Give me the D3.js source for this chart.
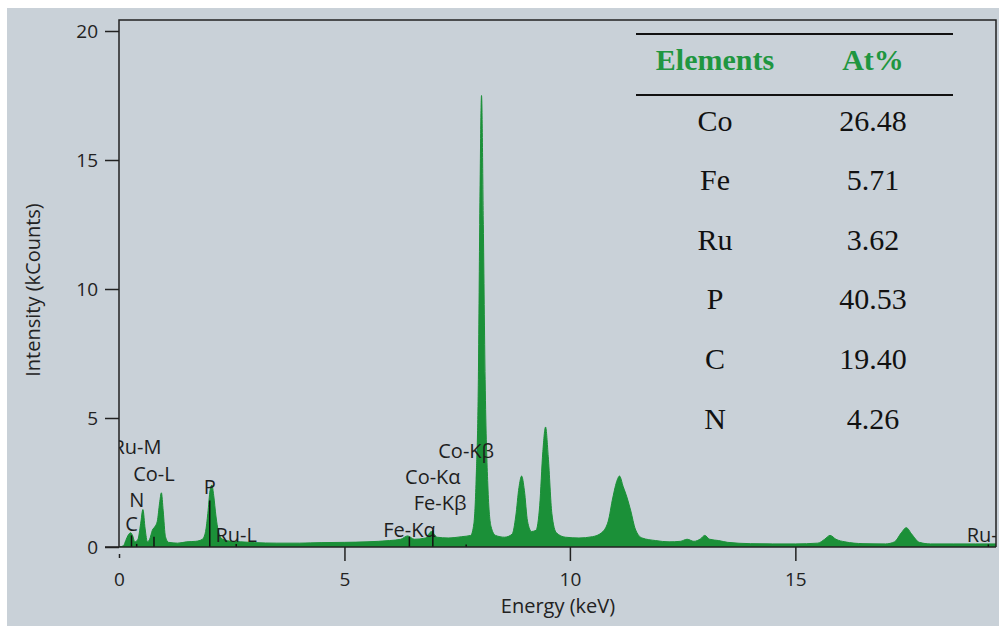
<!DOCTYPE html>
<html>
<head>
<meta charset="utf-8">
<script src="https://cdn.jsdelivr.net/npm/d3@7"></script>
<style>
    body { margin:0; background:#fff; }
    .tick text { font-family:"Open Sans", sans-serif; font-size:19px; fill:#222; }
    .peak__label { font-family:"Open Sans", sans-serif; font-size:20px; fill:#1e1e1e; }
    .axis__title { font-family:"Open Sans", sans-serif; font-size:20px; fill:#222; }
    .table__text { font-family:"Liberation Serif", "Times New Roman", serif; font-size:30px; fill:#111; }
</style>
</head>
<body>
<div class="main__area"></div>
<script>
// spectrum points: energy (keV), intensity (kCounts)
const energies=[
    0.00, 0.10, 0.15, 0.20, 0.26, 0.30, 0.35, 0.42, 0.48, 0.53, 0.58, 0.63, 0.68, 0.74, 0.80, 0.85, 0.90, 0.94, 0.98, 1.03,
    1.10, 1.30, 1.50, 1.70, 1.85, 1.92, 1.97, 2.02, 2.06, 2.10, 2.15, 2.22, 2.30, 2.50, 2.70, 3.00, 3.50, 4.00, 4.50, 5.00,
    5.50, 6.00, 6.25, 6.40, 6.55, 6.80, 6.93, 7.05, 7.30, 7.60, 7.80, 7.87, 7.92, 7.97, 8.00, 8.04, 8.08, 8.12, 8.18, 8.25,
    8.35, 8.55, 8.72, 8.80, 8.87, 8.93, 8.99, 9.06, 9.15, 9.25, 9.33, 9.40, 9.46, 9.52, 9.60, 9.70, 9.90, 10.20, 10.50, 10.70,
    10.85, 10.95, 11.05, 11.10, 11.18, 11.27, 11.35, 11.45, 11.60, 11.90, 12.20, 12.45, 12.60, 12.75, 12.90, 12.99, 13.10, 13.30, 13.50, 14.00,
    14.50, 15.00, 15.50, 15.65, 15.77, 15.90, 16.10, 16.50, 17.00, 17.20, 17.35, 17.46, 17.58, 17.75, 18.00, 18.50, 19.00, 19.45
];
const counts=[
    0.00, 0.05, 0.25, 0.45, 0.55, 0.45, 0.20, 0.30, 0.90, 1.45, 0.70, 0.20, 0.30, 0.65, 0.80, 1.00, 1.70, 2.10, 1.40, 0.40,
    0.18, 0.15, 0.20, 0.22, 0.30, 0.60, 1.30, 2.20, 2.40, 2.00, 1.20, 0.50, 0.30, 0.22, 0.20, 0.17, 0.15, 0.15, 0.17, 0.18,
    0.20, 0.25, 0.30, 0.43, 0.30, 0.35, 0.60, 0.38, 0.35, 0.40, 0.45, 0.90, 2.60, 6.50, 12.50, 17.50, 12.50, 6.50, 2.40, 0.80,
    0.45, 0.38, 0.50, 1.20, 2.30, 2.75, 2.20, 1.00, 0.60, 0.65, 1.60, 3.70, 4.65, 3.50, 1.30, 0.55, 0.38, 0.35, 0.40, 0.55,
    1.00, 1.90, 2.60, 2.75, 2.35, 1.90, 1.40, 0.70, 0.35, 0.25, 0.20, 0.22, 0.30, 0.22, 0.32, 0.45, 0.30, 0.25, 0.18, 0.13,
    0.12, 0.12, 0.15, 0.30, 0.45, 0.30, 0.20, 0.13, 0.12, 0.20, 0.55, 0.75, 0.50, 0.18, 0.12, 0.12, 0.12, 0.12
];

// peak markers: name, energy where it is drawn, marker height, label height (kCounts)
const peakNames=["Ru-M", "C", "N", "Co-L", "P", "Ru-L", "Fe-Kα", "Co-Kα", "Fe-Kβ", "Co-Kβ", "Ru-K"];
const peakEnergies=[0.40, 0.277, 0.392, 0.776, 2.013, 2.60, 6.44, 6.96, 7.12, 7.70, 19.28];
const markHeights=[0, 0.45, 0.12, 0.40, 1.80, 0.12, 0.40, 0.65, 0, 0.10, 0.10];
const labelHeights=[3.88, 0.90, 1.82, 2.82, 2.33, 0.47, 0.66, 2.70, 1.70, 3.72, 0.47];

// composition table
const tableElements=["Co", "Fe", "Ru", "P", "C", "N"];
const tablePercents=["26.48", "5.71", "3.62", "40.53", "19.40", "4.26"];

const xTicks=[0, 5, 10, 15];
const yTicks=[0, 5, 10, 15, 20];

const width=999;
const height=626;
const plot={ left:119, right:996, top:20, bottom:547 };

const svgTag=d3.select(".main__area").append("svg")
    .attr("width", width)
    .attr("height", height);

svgTag.append("rect")
    .attr("x", 7).attr("y", 8)
    .attr("width", width-7).attr("height", height-8)
    .attr("fill", "#c9d1d8");

const xScale=d3.scaleLinear().domain([0, 19.45]).range([plot.left, plot.right]);
const yScale=d3.scaleLinear().domain([0, 20]).range([plot.bottom, 31]);

svgTag.append("clipPath").attr("id", "plotClip")
    .append("rect")
    .attr("x", plot.left).attr("y", plot.top)
    .attr("width", plot.right-plot.left).attr("height", plot.bottom-plot.top);

// spectrum
const spectrum=energies.map((e, i)=>({ e, c:counts[i] }));
const area=d3.area()
    .x(d=>xScale(d.e))
    .y0(yScale(0))
    .y1(d=>yScale(d.c))
    .curve(d3.curveMonotoneX);

svgTag.append("path")
    .datum(spectrum)
    .attr("clip-path", "url(#plotClip)")
    .attr("d", area)
    .attr("fill", "#1b9038")
    .attr("stroke", "#1b9038")
    .attr("stroke-width", 1);

// peak markers + labels
const peakG=svgTag.append("g").attr("clip-path", "url(#plotClip)");
peakNames.forEach((name, i)=>{
    const px=xScale(peakEnergies[i]);
    if (markHeights[i]>0) {
        peakG.append("line")
            .attr("x1", px).attr("x2", px)
            .attr("y1", yScale(0)).attr("y2", yScale(markHeights[i]))
            .attr("stroke", "#111").attr("stroke-width", 1.5);
    }
    peakG.append("text")
        .attr("class", "peak__label")
        .attr("x", px).attr("y", yScale(labelHeights[i]))
        .attr("dy", "0.35em")
        .attr("text-anchor", "middle")
        .text(name);
});

// axes
const xAxis=svgTag.append("g")
    .attr("transform", `translate(0, ${plot.bottom})`)
    .call(d3.axisBottom(xScale).tickValues(xTicks).tickSize(14).tickPadding(12).tickSizeOuter(0));
xAxis.select(".domain").remove();
xAxis.selectAll(".tick line").attr("stroke", "#222").attr("stroke-width", 1.5);
// the tick at 0 is only a small dot in the original
xAxis.selectAll(".tick").filter(d=>d===0).select("line").attr("y1", 7).attr("y2", 11);

const yAxis=svgTag.append("g")
    .attr("transform", `translate(${plot.left}, 0)`)
    .call(d3.axisLeft(yScale).tickValues(yTicks).tickSize(14).tickPadding(7).tickSizeOuter(0));
yAxis.select(".domain").remove();
yAxis.selectAll(".tick line").attr("stroke", "#222").attr("stroke-width", 1.5);

// frame
svgTag.append("path")
    .attr("d", `M${plot.left},${plot.bottom}V${plot.top}H${plot.right}V${plot.bottom}`)
    .attr("fill", "none").attr("stroke", "#222").attr("stroke-width", 1.5);
svgTag.append("line")
    .attr("x1", 105).attr("x2", plot.right)
    .attr("y1", plot.bottom).attr("y2", plot.bottom)
    .attr("stroke", "#222").attr("stroke-width", 1.5);

svgTag.append("text")
    .attr("class", "axis__title")
    .attr("x", 558).attr("y", 606)
    .attr("dy", "0.35em")
    .attr("text-anchor", "middle")
    .text("Energy (keV)");

svgTag.append("text")
    .attr("class", "axis__title")
    .attr("transform", "translate(33, 290) rotate(-90)")
    .attr("dy", "0.35em")
    .attr("text-anchor", "middle")
    .text("Intensity (kCounts)");

// table
const colX=[715, 873];
const tableG=svgTag.append("g");
[34, 95].forEach(ly=>{
    tableG.append("line")
        .attr("x1", 636).attr("x2", 953)
        .attr("y1", ly).attr("y2", ly)
        .attr("stroke", "#111").attr("stroke-width", 2);
});
["Elements", "At%"].forEach((h, i)=>{
    tableG.append("text")
        .attr("class", "table__text")
        .attr("x", colX[i]).attr("y", 59)
        .attr("dy", "0.35em")
        .attr("text-anchor", "middle")
        .attr("font-weight", "bold")
        .style("fill", "#1f9640")
        .text(h);
});
const rowY=d3.scalePoint().domain(tableElements).range([120, 418]);
tableElements.forEach((el, i)=>{
    tableG.append("text")
        .attr("class", "table__text")
        .attr("x", colX[0]).attr("y", rowY(el))
        .attr("dy", "0.35em")
        .attr("text-anchor", "middle")
        .text(el);
    tableG.append("text")
        .attr("class", "table__text")
        .attr("x", colX[1]).attr("y", rowY(el))
        .attr("dy", "0.35em")
        .attr("text-anchor", "middle")
        .text(tablePercents[i]);
});
</script>
</body>
</html>
